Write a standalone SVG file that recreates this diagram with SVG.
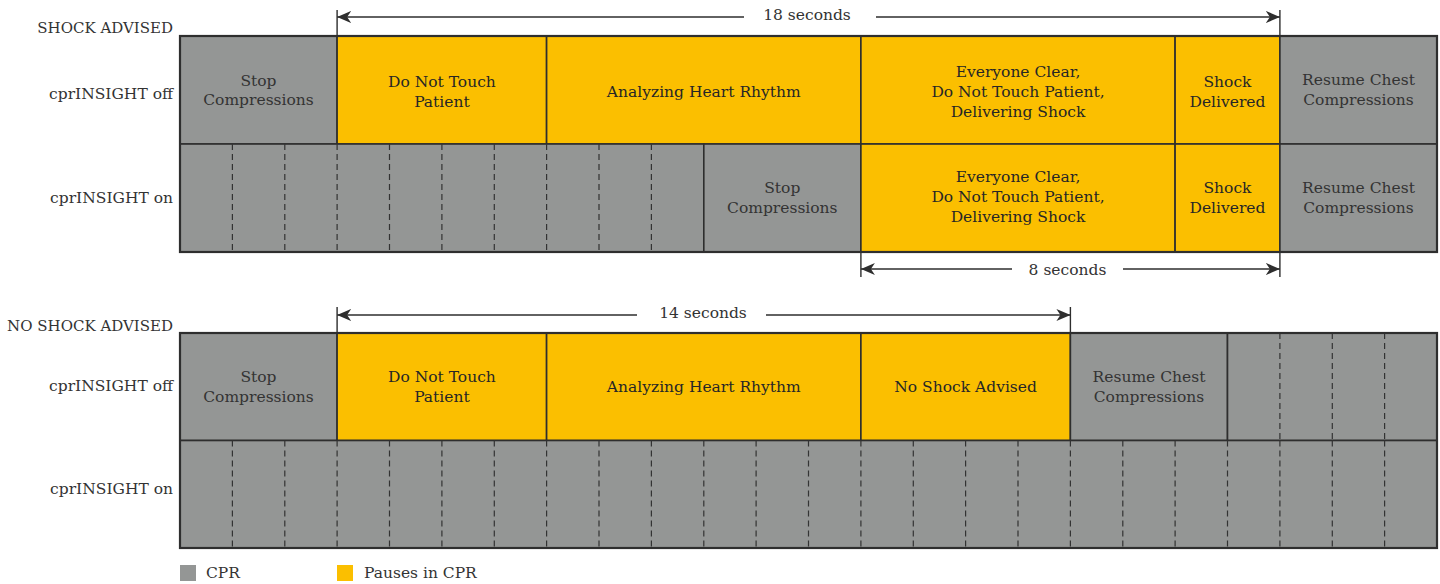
<svg xmlns="http://www.w3.org/2000/svg" width="1440" height="584" viewBox="0 0 1440 584">
<style>
  text { font-family: "DejaVu Serif", "Liberation Serif", serif; font-size: 15.5px; fill: #333333; }
  .c { text-anchor: middle; }
  .y text { fill: #262626; }
  .lbl { text-anchor: end; }
  .hdr { font-size: 15px; }
  .g { fill: #949695; stroke: #2e2e2e; stroke-width: 1.6; }
  .yl { fill: #FBBF00; stroke: #2e2e2e; stroke-width: 1.6; }
  .dash { stroke: #333333; stroke-width: 1.2; stroke-dasharray: 6 4; fill: none; }
  .frame { fill: none; stroke: #2e2e2e; stroke-width: 2.2; }
  .dim { stroke: #2e2e2e; stroke-width: 1.6; fill: none; }
  .tick { stroke: #2e2e2e; stroke-width: 1.4; fill: none; }
</style>
<defs>
  <marker id="ah" viewBox="0 0 14 12" refX="14" refY="6" markerWidth="14" markerHeight="12" orient="auto-start-reverse" markerUnits="userSpaceOnUse">
    <path d="M0,0 L14,6 L0,12 L4,6 Z" fill="#2e2e2e"/>
  </marker>
</defs>
<rect width="1440" height="584" fill="#ffffff"/>

<!-- Row labels -->
<g id="labels">
  <text class="lbl hdr" x="173" y="33">SHOCK ADVISED</text>
  <text class="lbl" x="173" y="99">cprINSIGHT off</text>
  <text class="lbl" x="173" y="203">cprINSIGHT on</text>
  <text class="lbl hdr" x="173" y="331">NO SHOCK ADVISED</text>
  <text class="lbl" x="173" y="391">cprINSIGHT off</text>
  <text class="lbl" x="173" y="494">cprINSIGHT on</text>
</g>

<!-- SHOCK ADVISED, cprINSIGHT off -->
<g id="sa-off-stop">
  <rect class="g" x="180" y="36" width="157.1" height="108"/>
  <text class="c" x="258.5" y="86">Stop</text>
  <text class="c" x="258.5" y="105">Compressions</text>
</g>
<g id="sa-off-donottouch" class="y">
  <rect class="yl" x="337.1" y="36" width="209.5" height="108"/>
  <text class="c" x="441.9" y="87">Do Not Touch</text>
  <text class="c" x="441.9" y="107">Patient</text>
</g>
<g id="sa-off-analyzing" class="y">
  <rect class="yl" x="546.6" y="36" width="314.3" height="108"/>
  <text class="c" x="703.8" y="97">Analyzing Heart Rhythm</text>
</g>
<g id="sa-off-clear" class="y">
  <rect class="yl" x="860.9" y="36" width="314.2" height="108"/>
  <text class="c" x="1018" y="77">Everyone Clear,</text>
  <text class="c" x="1018" y="97">Do Not Touch Patient,</text>
  <text class="c" x="1018" y="117">Delivering Shock</text>
</g>
<g id="sa-off-shock" class="y">
  <rect class="yl" x="1175.1" y="36" width="104.8" height="108"/>
  <text class="c" x="1227.5" y="87">Shock</text>
  <text class="c" x="1227.5" y="107">Delivered</text>
</g>
<g id="sa-off-resume">
  <rect class="g" x="1279.9" y="36" width="157.1" height="108"/>
  <text class="c" x="1358.5" y="85">Resume Chest</text>
  <text class="c" x="1358.5" y="105">Compressions</text>
</g>

<!-- SHOCK ADVISED, cprINSIGHT on -->
<g id="sa-on-cpr">
  <rect class="g" x="180" y="144" width="523.8" height="108"/>
  <path class="dash" d="M232.4,144V252 M284.8,144V252 M337.1,144V252 M389.5,144V252 M441.9,144V252 M494.3,144V252 M546.6,144V252 M599,144V252 M651.4,144V252"/>
</g>
<g id="sa-on-stop">
  <rect class="g" x="703.8" y="144" width="157.1" height="108"/>
  <text class="c" x="782.3" y="193">Stop</text>
  <text class="c" x="782.3" y="213">Compressions</text>
</g>
<g id="sa-on-clear" class="y">
  <rect class="yl" x="860.9" y="144" width="314.2" height="108"/>
  <text class="c" x="1018" y="182">Everyone Clear,</text>
  <text class="c" x="1018" y="202">Do Not Touch Patient,</text>
  <text class="c" x="1018" y="222">Delivering Shock</text>
</g>
<g id="sa-on-shock" class="y">
  <rect class="yl" x="1175.1" y="144" width="104.8" height="108"/>
  <text class="c" x="1227.5" y="193">Shock</text>
  <text class="c" x="1227.5" y="213">Delivered</text>
</g>
<g id="sa-on-resume">
  <rect class="g" x="1279.9" y="144" width="157.1" height="108"/>
  <text class="c" x="1358.5" y="193">Resume Chest</text>
  <text class="c" x="1358.5" y="213">Compressions</text>
</g>
<rect class="frame" x="180" y="36" width="1257" height="216"/>

<!-- NO SHOCK ADVISED, cprINSIGHT off -->
<g id="nsa-off-stop">
  <rect class="g" x="180" y="333" width="157.1" height="107.5"/>
  <text class="c" x="258.5" y="382">Stop</text>
  <text class="c" x="258.5" y="402">Compressions</text>
</g>
<g id="nsa-off-donottouch" class="y">
  <rect class="yl" x="337.1" y="333" width="209.5" height="107.5"/>
  <text class="c" x="441.9" y="382">Do Not Touch</text>
  <text class="c" x="441.9" y="402">Patient</text>
</g>
<g id="nsa-off-analyzing" class="y">
  <rect class="yl" x="546.6" y="333" width="314.3" height="107.5"/>
  <text class="c" x="703.8" y="392">Analyzing Heart Rhythm</text>
</g>
<g id="nsa-off-noshock" class="y">
  <rect class="yl" x="860.9" y="333" width="209.5" height="107.5"/>
  <text class="c" x="965.6" y="392">No Shock Advised</text>
</g>
<g id="nsa-off-resume">
  <rect class="g" x="1070.4" y="333" width="157.1" height="107.5"/>
  <text class="c" x="1149" y="382">Resume Chest</text>
  <text class="c" x="1149" y="402">Compressions</text>
</g>
<g id="nsa-off-cpr">
  <rect class="g" x="1227.5" y="333" width="209.5" height="107.5"/>
  <path class="dash" d="M1279.9,333V440.5 M1332.3,333V440.5 M1384.6,333V440.5"/>
</g>

<!-- NO SHOCK ADVISED, cprINSIGHT on -->
<g id="nsa-on-cpr">
  <rect class="g" x="180" y="440.5" width="1257" height="107.5"/>
  <path class="dash" d="M232.4,440.5V548 M284.8,440.5V548 M337.1,440.5V548 M389.5,440.5V548 M441.9,440.5V548 M494.3,440.5V548 M546.6,440.5V548 M599,440.5V548 M651.4,440.5V548 M703.8,440.5V548 M756.1,440.5V548 M808.5,440.5V548 M860.9,440.5V548 M913.3,440.5V548 M965.6,440.5V548 M1018,440.5V548 M1070.4,440.5V548 M1122.8,440.5V548 M1175.1,440.5V548 M1227.5,440.5V548 M1279.9,440.5V548 M1332.3,440.5V548 M1384.6,440.5V548"/>
</g>
<rect class="frame" x="180" y="333" width="1257" height="215"/>

<!-- Dimension connectors -->
<g id="connectors">
  <path class="tick" d="M337.1,10V36 M1279.9,10V36"/>
  <line class="dim" x1="337.1" y1="17" x2="744" y2="17" marker-start="url(#ah)"/>
  <line class="dim" x1="876" y1="17" x2="1279.9" y2="17" marker-end="url(#ah)"/>
  <text class="c" x="807" y="20">18 seconds</text>

  <path class="tick" d="M860.9,252V277 M1279.9,252V277"/>
  <line class="dim" x1="860.9" y1="269" x2="1012" y2="269" marker-start="url(#ah)"/>
  <line class="dim" x1="1123" y1="269" x2="1279.9" y2="269" marker-end="url(#ah)"/>
  <text class="c" x="1067.5" y="275">8 seconds</text>

  <path class="tick" d="M337.1,307V333 M1070.4,307V333"/>
  <line class="dim" x1="337.1" y1="315" x2="637" y2="315" marker-start="url(#ah)"/>
  <line class="dim" x1="766" y1="315" x2="1070.4" y2="315" marker-end="url(#ah)"/>
  <text class="c" x="703" y="318">14 seconds</text>
</g>

<!-- Legend -->
<g id="legend-cpr">
  <rect x="180" y="565" width="16" height="16" fill="#949695"/>
  <text x="206" y="578">CPR</text>
</g>
<g id="legend-pause">
  <rect x="337" y="565" width="16" height="16" fill="#FBBF00"/>
  <text x="364" y="578">Pauses in CPR</text>
</g>
</svg>
